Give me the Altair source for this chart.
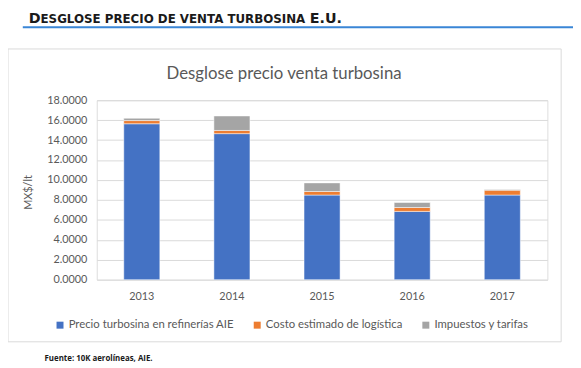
import altair as alt
import pandas as pd

years = ["2013", "2014", "2015", "2016", "2017"]
precio = [15.64, 14.65, 8.49, 6.85, 8.49]
logistica = [0.32, 0.32, 0.36, 0.39, 0.49]
impuestos = [0.23, 1.45, 0.86, 0.50, 0.07]
series = ["Precio turbosina en refinerías AIE", "Costo estimado de logística", "Impuestos y tarifas"]
colors = ["#4472C4", "#ED7D31", "#A5A5A5"]
y_ticks = [0, 2, 4, 6, 8, 10, 12, 14, 16, 18]

rows = []
for i, yr in enumerate(years):
    for k, vals in enumerate([precio, logistica, impuestos]):
        rows.append({"year": yr, "serie": series[k], "valor": vals[i], "orden": k})
df = pd.DataFrame(rows)

FONT = "Lato"
HFONT = "DejaVu Sans"
W, H = 457, 182

bars = alt.Chart(df).mark_bar(stroke="white", strokeWidth=0.5).encode(
    x=alt.X("year:N", title=None, sort=years,
            scale=alt.Scale(paddingInner=0.6, paddingOuter=0.3),
            axis=alt.Axis(labelAngle=0, labelFontSize=11, labelColor="#595959",
                          labelPadding=11, domain=False, ticks=False, labelFont=FONT)),
    y=alt.Y("valor:Q", stack="zero",
            scale=alt.Scale(domain=[0, 18], nice=False),
            axis=alt.Axis(values=y_ticks, format=".4f", title="MX$/lt",
                          titleFontSize=11, titleColor="#595959", titleFontWeight="normal",
                          titleFont=FONT, titleX=-69, titleY=H / 2 + 2, titleAngle=-90,
                          titleAlign="center", titleBaseline="middle",
                          labelFontSize=11, labelColor="#595959", labelPadding=10,
                          labelFont=FONT, domain=False, ticks=False,
                          gridColor="#d9d9d9", gridWidth=1)),
    color=alt.Color("serie:N", sort=series,
                    scale=alt.Scale(domain=series, range=colors),
                    legend=alt.Legend(title=None, orient="none", legendX=-43, legendY=222,
                                      direction="horizontal", symbolType="square",
                                      symbolSize=50, symbolStrokeWidth=0,
                                      labelFontSize=11.5, labelColor="#595959", labelLimit=300,
                                      labelFont=FONT, columnPadding=17, labelOffset=3)),
    order=alt.Order("orden:Q"),
)

one = pd.DataFrame({"a": [0]})

border = alt.Chart(one).mark_rect(fill=None, stroke="#d9d9d9", strokeWidth=1).encode(
    x=alt.value(-90), x2=alt.value(471), y=alt.value(-52), y2=alt.value(245))

blue_line = alt.Chart(one).mark_rule(color="#3a86d6", strokeWidth=2).encode(
    x=alt.value(-75), x2=alt.value(483), y=alt.value(-74))

chart_title = alt.Chart(one).mark_text(
    text="Desglose precio venta turbosina", fontSize=17, color="#595959", font=FONT,
    align="center", baseline="middle").encode(x=alt.value(190), y=alt.value(-27))

t1 = alt.Chart(one).mark_text(
    text="D", fontSize=14.5, fontWeight="bold", color="#1a1a1a", font=HFONT,
    align="left", baseline="alphabetic").encode(x=alt.value(-69), y=alt.value(-78.5))
t2 = alt.Chart(one).mark_text(
    text="ESGLOSE PRECIO DE VENTA TURBOSINA", fontSize=12, fontWeight="bold",
    color="#1a1a1a", font=HFONT, align="left", baseline="alphabetic").encode(
    x=alt.value(-57), y=alt.value(-78.5))
t3 = alt.Chart(one).mark_text(
    text="E.U.", fontSize=14.5, fontWeight="bold", color="#1a1a1a", font=HFONT,
    align="left", baseline="alphabetic").encode(x=alt.value(216), y=alt.value(-78.5))

foot = alt.Chart(one).mark_text(
    text="Fuente: 10K aerolíneas, AIE.", fontSize=8, fontWeight="bold", color="#1a1a1a",
    font="Open Sans", align="left", baseline="middle").encode(
    x=alt.value(-53), y=alt.value(262))

chart = alt.layer(border, blue_line, chart_title, t1, t2, t3, foot, bars).properties(
    width=W, height=H,
    autosize=alt.AutoSizeParams(type="none"),
    padding={"left": 90, "top": 91, "right": 26, "bottom": 85},
).configure_view(stroke=None).configure(background="white")

chart.save("out.html", embed_options={"renderer": "svg", "actions": False})
